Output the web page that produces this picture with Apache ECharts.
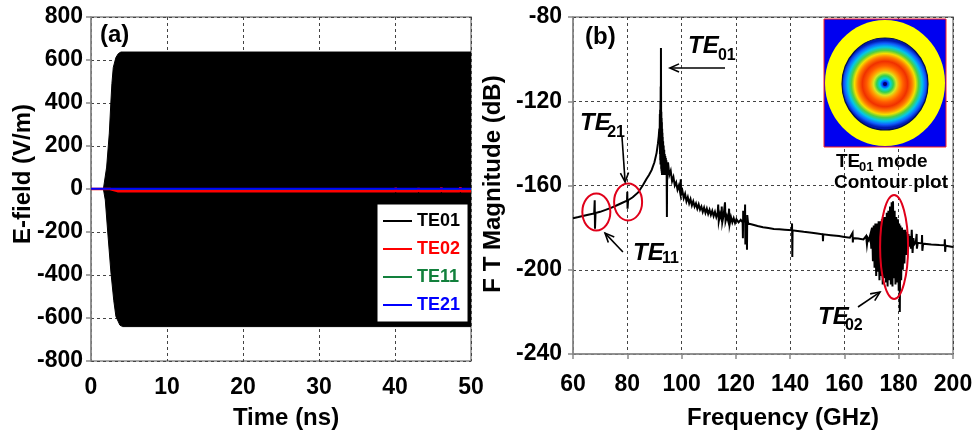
<!DOCTYPE html>
<html>
<head>
<meta charset="utf-8">
<script src="https://cdn.jsdelivr.net/npm/echarts@6/dist/echarts.min.js"></script>
<style>
html,body{margin:0;padding:0;background:#fff;}
#c{width:976px;height:437px;}
</style>
</head>
<body>
<div id="c"></div>
<script>
// ---------- DATA ----------
// Panel (a): E-field vs time (ns). TE01 is a fast oscillation drawn as its envelope.
const te01UpperTime = [1.63, 2.06, 2.41, 2.63, 2.75, 2.93, 3.28, 3.6, 3.94, 50];
const te01UpperField = [0, 102, 260, 414, 490, 565, 612, 630, 637, 637];
const te01LowerTime = [1.63, 1.88, 2.2, 2.63, 3.0, 3.28, 3.8, 4.16, 50];
const te01LowerField = [0, -51, -200, -391, -520, -593, -633, -640, -640];
const te02Time = [0, 2.5, 3.5, 40, 40.1, 40.2, 43, 43.1, 43.2, 46, 46.1, 46.2, 48.5, 48.6, 48.7, 50];
const te02Field = [0, 0, -10, -10, 6, -10, -10, 5, -10, -10, 7, -10, -10, 8, -10, -10];
const te11Time = [0, 50];
const te11Field = [0, 0];
const te21Time = [0, 50];
const te21Field = [1, 1];
const modeNames = ['TE01', 'TE02', 'TE11', 'TE21'];
const modeColors = ['#000000', '#ff0000', '#12803c', '#0000ff'];

// Panel (b): FT magnitude (dB) vs frequency (GHz)
const specLow = [[60.0,-175.5],[62.0,-175.0],[64.0,-174.4],[66.0,-173.8],[67.8,-173.3],[68.0,-167.0],[68.1,-180.5],[68.3,-173.1],
  [70.0,-172.5],[72.0,-171.6],[74.0,-170.6],[76.0,-169.5],[78.0,-168.3],[79.9,-167.2],[80.0,-163.0],[80.1,-171.0],[80.3,-167.0],
  [82.0,-165.6],[84.0,-163.3],[85.8,-159.8],[87.0,-157.0],[88.0,-155.0],[89.0,-152.6],[90.0,-149.0],[90.8,-144.5],[91.3,-140.0],
  [91.6,-136.5]];
const specPeak = [[91.8,-133],[91.9,-140],[92.0,-126],[92.05,-145],[92.1,-124],[92.15,-148],[92.2,-120],[92.25,-150],[92.3,-113],
  [92.35,-148],[92.4,-94.7],[92.45,-118],[92.5,-152],[92.55,-125],[92.6,-153],[92.65,-128],[92.7,-154],[92.75,-130],[92.8,-155],
  [92.85,-133],[92.9,-154],[92.95,-135],[93.0,-155],[93.05,-137],[93.1,-154],[93.2,-139],[93.3,-155],[93.4,-141],[93.5,-154],
  [93.6,-143],[93.7,-155],[93.8,-145],[93.9,-154],[94.0,-146],[94.1,-155],[94.2,-147],[94.3,-155],[94.4,-148],[94.5,-154],
  [94.6,-175],[94.7,-149],[94.8,-155]];
const specTail = [[95.0,-149],[95.5,-155],[96.0,-153],[96.5,-158],[97.0,-156],[97.5,-160],[98.0,-158.5],[98.5,-162],[99.0,-160],
  [99.5,-163.5],[99.7,-157],[99.9,-164],[100.3,-162.5],[100.8,-166],[101.3,-164],[101.8,-167.5],[102.3,-165.5],[102.8,-168.5],
  [103.3,-166.5],[103.8,-169.5],[104.3,-167.5],[104.8,-170],[105.3,-168.5],[105.8,-171],[106.3,-169],[106.8,-171.5],
  [107.3,-170],[107.8,-172.5],[108.3,-170.5],[108.8,-173],[109.3,-171],[109.8,-173.5],[110.3,-171.5],[110.8,-174],
  [111.3,-172],[111.8,-174.5],[112.3,-172.5],[112.8,-175],[113.3,-173],[113.5,-169],[113.7,-177],[114.2,-173.5],
  [114.7,-176],[114.8,-170],[115.0,-177.5],[115.5,-174],[116.0,-168],[116.2,-177],[116.7,-174.5],[117.2,-177],[117.5,-171],
  [117.7,-178.5],[118.2,-175],[118.7,-177.5],[119.2,-175.5],[119.7,-177.8],[120.2,-176],[121.0,-177.5],[121.8,-176.3],
  [122.5,-177.5],[122.6,-185],[122.7,-172],[123.3,-177.5],[123.4,-169],[123.5,-188],[124.0,-177.5],[124.1,-190.5],[124.2,-174],
  [124.5,-178],[126.0,-178.5],[128.0,-179.2],[130.0,-179.8],[132.0,-180.2],[134.0,-180.6],[136.0,-180.8],[138.0,-181],
  [140.6,-181.2],[140.7,-178],[140.8,-194],[140.9,-181.3],[142.0,-181.5],[145.0,-182],[148.0,-182.4],[150.0,-182.8],
  [152.0,-183.2],[152.1,-186.5],[152.2,-183.2],[155.0,-183.6],[158.0,-184],[160.0,-184.4],[162.0,-184.8],[163.0,-182.5],
  [163.1,-187],[163.2,-185],[165.0,-185.2],[167.0,-185.6],[168.0,-184],[168.3,-188],[168.6,-185],[169.0,-186]];
const specTE02 = [[169.6,-183],[169.9,-190],[170.2,-180],[170.5,-196],[170.8,-179],[171.1,-199],[171.4,-178],[171.7,-203],
  [172.0,-178],[172.3,-201],[172.6,-177],[172.9,-205],[173.2,-177],[173.5,-203],[173.8,-176],[174.1,-207],[174.4,-175],
  [174.7,-204],[175.0,-175],[175.3,-206],[175.6,-173],[175.9,-208],[176.2,-172],[176.5,-205],[176.8,-170],[177.1,-207],
  [177.4,-168],[177.7,-208],[177.9,-167.5],[178.2,-204],[178.5,-172],[178.8,-207],[179.1,-175],[179.4,-206],[179.7,-176],
  [180.0,-210],[180.2,-178],[180.4,-220],[180.6,-179],[180.9,-205],[181.2,-180],[181.5,-200],[181.8,-181],[182.1,-197],
  [182.4,-181],[182.7,-193],[183.0,-182],[183.3,-191],[183.6,-183],[183.9,-189],[184.2,-184],[184.5,-190],[184.8,-181],
  [185.1,-192],[185.4,-185],[185.7,-188]];
const specHigh = [[186.3,-187],[186.6,-183],[186.7,-190],[187.0,-187.2],[188.5,-187.5],[188.6,-183.5],[188.7,-191],[189.0,-187.6],
  [192.0,-188],[195.0,-188.3],[196.9,-188.4],[197.0,-185.5],[197.1,-191.5],[197.3,-188.6],[200.0,-189.2]];

// ---------- CHART ----------
const FONT = '"Liberation Sans", Arial, sans-serif';
const zip = (a, b) => a.map((v, i) => [v, b[i]]);
const chart = echarts.init(document.getElementById('c'), null, {renderer: 'canvas'});

const axisCommon = {
  axisLine: {show: true, lineStyle: {color: '#8a8a8a', width: 1.5}},
  axisTick: {show: true, inside: false, length: 5, lineStyle: {color: '#8a8a8a', width: 1.5}},
  splitLine: {show: true, lineStyle: {color: '#444', width: 1, type: [3, 3]}},
};
const lab = (m) => ({fontSize: 23, fontWeight: 'bold', color: '#000', fontFamily: FONT, margin: m});

const option = {
  animation: false,
  backgroundColor: '#fff',
  grid: [
    {left: 91, top: 17, width: 380, height: 344, show: true, borderColor: '#8a8a8a', borderWidth: 1.5, backgroundColor: 'transparent'},
    {left: 573, top: 17, width: 380, height: 337, show: true, borderColor: '#8a8a8a', borderWidth: 1.5, backgroundColor: 'transparent'}
  ],
  xAxis: [
    Object.assign({type: 'value', gridIndex: 0, min: 0, max: 50, interval: 10, axisLabel: lab(15)}, axisCommon),
    Object.assign({type: 'value', gridIndex: 1, min: 60, max: 200, interval: 20, axisLabel: lab(19)}, axisCommon)
  ],
  yAxis: [
    Object.assign({type: 'value', gridIndex: 0, min: -800, max: 800, interval: 200, axisLabel: lab(8)}, axisCommon),
    Object.assign({type: 'value', gridIndex: 1, min: -240, max: -80, interval: 40, axisLabel: lab(11)}, axisCommon)
  ],
  legend: {
    orient: 'vertical', left: 377, top: 204, padding: [8, 8, 8, 6], itemGap: 10,
    itemWidth: 29, itemHeight: 2, icon: 'rect',
    backgroundColor: '#fff', borderColor: '#000', borderWidth: 1, borderRadius: 0,
    textStyle: {fontSize: 18, fontWeight: 'bold', fontFamily: FONT, lineHeight: 18},
    data: modeNames.map((n, i) => ({name: n, textStyle: {color: modeColors[i]}}))
  },
  series: [
    {name: 'TE01', type: 'line', xAxisIndex: 0, yAxisIndex: 0, data: zip(te01UpperTime, te01UpperField),
     showSymbol: false, color: modeColors[0], lineStyle: {width: 1}, areaStyle: {color: '#000', opacity: 1}, z: 2},
    {name: 'TE01', type: 'line', xAxisIndex: 0, yAxisIndex: 0, data: zip(te01LowerTime, te01LowerField),
     showSymbol: false, color: modeColors[0], lineStyle: {width: 1}, areaStyle: {color: '#000', opacity: 1}, z: 2},
    {name: 'TE11', type: 'line', xAxisIndex: 0, yAxisIndex: 0, data: zip(te11Time, te11Field),
     showSymbol: false, color: modeColors[2], lineStyle: {width: 2}, z: 3},
    {name: 'TE02', type: 'line', xAxisIndex: 0, yAxisIndex: 0, data: zip(te02Time, te02Field),
     showSymbol: false, color: modeColors[1], lineStyle: {width: 2.5}, z: 4},
    {name: 'TE21', type: 'line', xAxisIndex: 0, yAxisIndex: 0, data: zip(te21Time, te21Field),
     showSymbol: false, color: modeColors[3], lineStyle: {width: 2}, z: 5},
    {name: 'FT', type: 'line', xAxisIndex: 1, yAxisIndex: 1,
     data: [].concat(specLow, specPeak, specTail, specTE02, specHigh),
     showSymbol: false, color: '#000', lineStyle: {width: 2, join: 'miter'}, z: 3}
  ]
};
chart.setOption(option);

// ---------- ANNOTATIONS (placed in data coordinates of panel b) ----------
const P = (f, db) => chart.convertToPixel({gridIndex: 1}, [f, db]);
const g = [];
const T = (x, y, text, size, opts) => g.push(Object.assign({type: 'text', x: x, y: y, z: 20,
  style: Object.assign({text: text, fontSize: size, fontWeight: 'bold', fontFamily: FONT, fill: '#000',
    align: 'left', verticalAlign: 'middle'}, (opts && opts.style) || {})}, (opts && opts.el) || {}));

function arrow(from, to) {
  const a = P(from[0], from[1]), b = P(to[0], to[1]);
  const ang = Math.atan2(b[1] - a[1], b[0] - a[0]), L = 10, w = 0.42;
  const w1 = [b[0] - L * Math.cos(ang - w), b[1] - L * Math.sin(ang - w)];
  const w2 = [b[0] - L * Math.cos(ang + w), b[1] - L * Math.sin(ang + w)];
  g.push({type: 'line', z: 20, shape: {x1: a[0], y1: a[1], x2: b[0], y2: b[1]}, style: {stroke: '#000', lineWidth: 1.6}});
  g.push({type: 'polyline', z: 20, shape: {points: [w1, b, w2]}, style: {stroke: '#000', lineWidth: 1.6, fill: null}});
}
function ellipse(f, db, rx, ry) {
  const c = P(f, db);
  g.push({type: 'ellipse', z: 20, shape: {cx: c[0], cy: c[1], rx: rx, ry: ry}, style: {fill: null, stroke: '#e0001a', lineWidth: 2}});
}
function modeLabel(f, db, sub, subF, subDb) {
  const p = P(f, db), q = P(subF, subDb);
  T(p[0], p[1], 'TE', 24, {style: {fontStyle: 'italic'}});
  T(q[0], q[1], sub, 16, {});
}

ellipse(68.6, -172.6, 14, 18.5);
ellipse(80.3, -167.8, 14, 18.5);
ellipse(178.3, -189.2, 14, 52);
arrow([116.0, -104.2], [95.7, -104.2]);
arrow([78.05, -137.0], [79.2, -158.3]);
arrow([78.4, -191.6], [71.8, -182.6]);
arrow([165.0, -217.7], [173.1, -210.6]);
modeLabel(102.4, -93.8, '01', 113.4, -98.5);
modeLabel(62.6, -130.6, '21', 72.6, -135.1);
modeLabel(82.1, -192.3, '11', 92.8, -194.9);
modeLabel(150.3, -222.7, '02', 160.2, -226.7);

// panel letters
T(100, 35, '(a)', 24, {});
T(585, 37, '(b)', 24, {});

// axis titles
T(23, 174, 'E-field (V/m)', 24, {style: {align: 'center'}, el: {rotation: Math.PI / 2}});
T(286, 418, 'Time (ns)', 24, {style: {align: 'center'}});
T(493, 184, 'F T Magnitude (dB)', 24, {style: {align: 'center'}, el: {rotation: Math.PI / 2}});
T(783, 418, 'Frequency (GHz)', 24, {style: {align: 'center'}});

// inset: TE01 mode contour plot
g.push({type: 'rect', z: 30, shape: {x: 824, y: 19, width: 122, height: 128}, style: {fill: '#0000f0', stroke: '#ff2020', lineWidth: 1}});
g.push({type: 'ellipse', z: 31, shape: {cx: 885, cy: 83, rx: 60, ry: 63}, style: {fill: '#ffff00'}});
g.push({type: 'ellipse', z: 32, shape: {cx: 885, cy: 84, rx: 43, ry: 46}, style: {
  stroke: '#001050', lineWidth: 1.2,
  fill: {type: 'radial', x: 0.5, y: 0.5, r: 0.5, colorStops: [
    {offset: 0, color: '#00008b'}, {offset: 0.06, color: '#0040ff'}, {offset: 0.12, color: '#00d0e8'},
    {offset: 0.19, color: '#30d050'}, {offset: 0.26, color: '#d8e820'}, {offset: 0.33, color: '#ffa000'},
    {offset: 0.42, color: '#ff5a00'}, {offset: 0.52, color: '#f03000'}, {offset: 0.62, color: '#ff7a00'},
    {offset: 0.7, color: '#f4e000'}, {offset: 0.77, color: '#50d040'}, {offset: 0.85, color: '#00c8e8'},
    {offset: 0.93, color: '#1060ff'}, {offset: 1, color: '#0018b0'}]}
}});
g.push({type: 'circle', z: 33, shape: {cx: 885, cy: 84, r: 2}, style: {fill: '#000070'}});
T(836, 162, 'TE', 19, {el: {z: 34}});
T(859, 167, '01', 13, {el: {z: 34}});
T(877, 162, 'mode', 19, {el: {z: 34}});
T(891, 183, 'Contour plot', 19, {style: {align: 'center'}, el: {z: 34}});

chart.setOption({graphic: {elements: g}});
</script>
</body>
</html>
